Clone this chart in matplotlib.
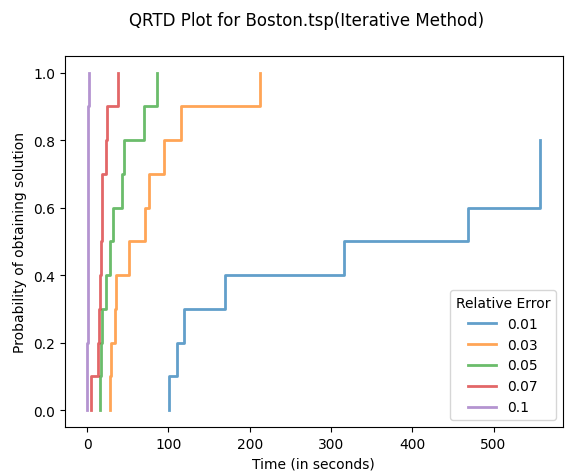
import matplotlib.pyplot as plt

# run times (seconds) at which each successive run reached the target error
errors = ["0.01", "0.03", "0.05", "0.07", "0.1"]
times_001 = [101.4, 111.2, 118.7, 169.3, 316.4, 468.9, 557.5, 557.5]
times_003 = [28.8, 30.0, 33.8, 35.5, 51.5, 71.3, 76.4, 94.9, 116.0, 212.5]
times_005 = [16.5, 17.2, 18.5, 23.9, 28.8, 31.3, 42.4, 45.3, 70.5, 86.1]
times_007 = [4.5, 13.0, 14.8, 15.5, 17.7, 18.2, 18.9, 23.9, 25.1, 37.5]
times_01 = [0.4, 0.5, 0.6, 0.7, 0.8, 0.9, 1.0, 1.2, 1.5, 2.5]
n_runs = 10

fig = plt.figure(figsize=(5.68, 4.77), dpi=100)
ax = fig.add_axes([0.114, 0.103, 0.877, 0.778])

for label, t in zip(errors, [times_001, times_003, times_005, times_007, times_01]):
    x = [t[0]] + t
    y = [i / n_runs for i in range(len(t) + 1)]
    ax.step(x, y, where="post", linewidth=2, alpha=0.7, label=label)

ax.set_xlabel("Time (in seconds)")
ax.set_ylabel("Probability of obtaining solution")
ax.legend(title="Relative Error", loc="lower right")
fig.suptitle("QRTD Plot for Boston.tsp(Iterative Method)", x=0.54, y=0.975)

fig.savefig("out.png", dpi=100)
